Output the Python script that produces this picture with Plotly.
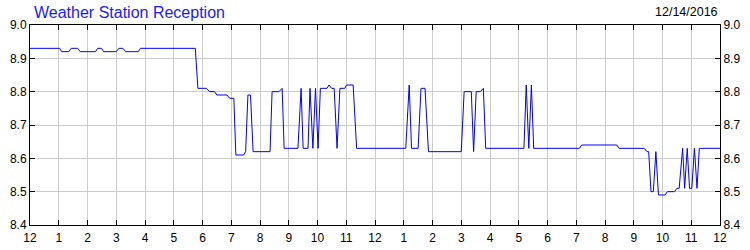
import plotly.graph_objects as go

hours = [0, 1.03, 1.10, 1.35, 1.43, 1.66, 1.75, 2.28, 2.35, 2.49, 2.56, 3.00, 3.09, 3.23, 3.33, 3.77,
         3.84, 5.75, 5.84, 6.13, 6.25, 6.42, 6.50, 6.85, 6.95, 7.09, 7.16, 7.43, 7.50, 7.58, 7.67,
         7.76, 8.35, 8.42, 8.66, 8.77, 8.84, 9.32, 9.43, 9.50, 9.67, 9.74, 9.84, 9.93, 10.02, 10.10,
         10.33, 10.40, 10.49, 10.58, 10.68, 10.78, 10.95, 11.01, 11.24, 11.36, 13.07, 13.19, 13.27,
         13.50, 13.60, 13.74, 13.86, 15.00, 15.10, 15.35, 15.43, 15.52, 15.67, 15.77, 15.85, 17.18,
         17.26, 17.35, 17.44, 17.52, 19.11, 19.19, 20.41, 20.49, 21.36, 21.46, 21.52, 21.60, 21.68,
         21.77, 21.86, 22.09, 22.17, 22.42, 22.50, 22.58, 22.70, 22.77, 22.86, 22.94, 23.02, 23.11,
         23.20, 23.28, 24.00]
readings = [8.93, 8.93, 8.92, 8.92, 8.93, 8.93, 8.92, 8.92, 8.93, 8.93, 8.92, 8.92, 8.93, 8.93, 8.92, 8.92,
            8.93, 8.93, 8.81, 8.81, 8.80, 8.80, 8.79, 8.79, 8.78, 8.78, 8.61, 8.61, 8.62, 8.79, 8.79,
            8.62, 8.62, 8.80, 8.80, 8.81, 8.63, 8.63, 8.81, 8.63, 8.63, 8.81, 8.63, 8.81, 8.63, 8.81,
            8.81, 8.82, 8.81, 8.81, 8.63, 8.81, 8.81, 8.82, 8.82, 8.63, 8.63, 8.82, 8.63,
            8.63, 8.81, 8.81, 8.62, 8.62, 8.80, 8.80, 8.62, 8.80, 8.80, 8.81, 8.63, 8.63,
            8.82, 8.63, 8.82, 8.63, 8.63, 8.64, 8.64, 8.63, 8.63, 8.62, 8.62, 8.50, 8.50,
            8.62, 8.49, 8.49, 8.50, 8.50, 8.51, 8.51, 8.63, 8.51, 8.63, 8.51, 8.51, 8.63,
            8.51, 8.63, 8.63]

x_tickvals = list(range(0, 25))
x_ticktext = ["12"] + [str(h) for h in range(1, 12)] + ["12"] + [str(h) for h in range(1, 12)] + ["12"]
y_tickvals = [8.4, 8.5, 8.6, 8.7, 8.8, 8.9, 9.0]

title_text = "Weather Station Reception"
date_text = "12/14/2016"

font_family = "Liberation Sans, Arial, sans-serif"
tick_font = dict(family=font_family, size=12, color="#000000")

fig = go.Figure()
fig.add_trace(go.Scatter(x=hours, y=readings, mode="lines",
                         line=dict(color="#0000ff", width=1), hoverinfo="skip", showlegend=False))
fig.add_trace(go.Scatter(x=hours, y=readings, mode="lines", yaxis="y2",
                         line=dict(color="rgba(0,0,0,0)", width=1), hoverinfo="skip", showlegend=False))

axis_common = dict(showline=True, linecolor="black", linewidth=1, ticks="inside", ticklen=5,
                   tickcolor="black", showgrid=True, gridcolor="#cccccc", gridwidth=1,
                   zeroline=False, tickfont=tick_font, automargin=False)

fig.update_layout(
    width=750, height=250,
    margin=dict(l=30, r=30, t=25, b=25, autoexpand=False),
    plot_bgcolor="white", paper_bgcolor="white",
    xaxis=dict(range=[0, 24], tickvals=x_tickvals, ticktext=x_ticktext, mirror="ticks",
               ticklabelstandoff=2, **axis_common),
    yaxis=dict(range=[8.4, 9.0], tickvals=y_tickvals, tickformat=".1f", mirror="ticks", **axis_common),
    yaxis2=dict(range=[8.4, 9.0], tickvals=y_tickvals, tickformat=".1f", overlaying="y", side="right",
                showline=True, linecolor="black", ticks="inside", ticklen=5, tickcolor="black",
                showgrid=False, zeroline=False, automargin=False, tickfont=tick_font),
)
fig.add_annotation(text=title_text, xref="paper", yref="paper", x=0.003, y=1.0, yshift=13,
                   xanchor="left", yanchor="middle", showarrow=False,
                   font=dict(family=font_family, size=16, color="#1a1aff"))
fig.add_annotation(text=date_text, xref="paper", yref="paper", x=1.0, y=1.0, yshift=13,
                   xanchor="right", yanchor="middle", showarrow=False,
                   font=dict(family=font_family, size=12.5, color="#000000"))

fig.write_html("out.html")
